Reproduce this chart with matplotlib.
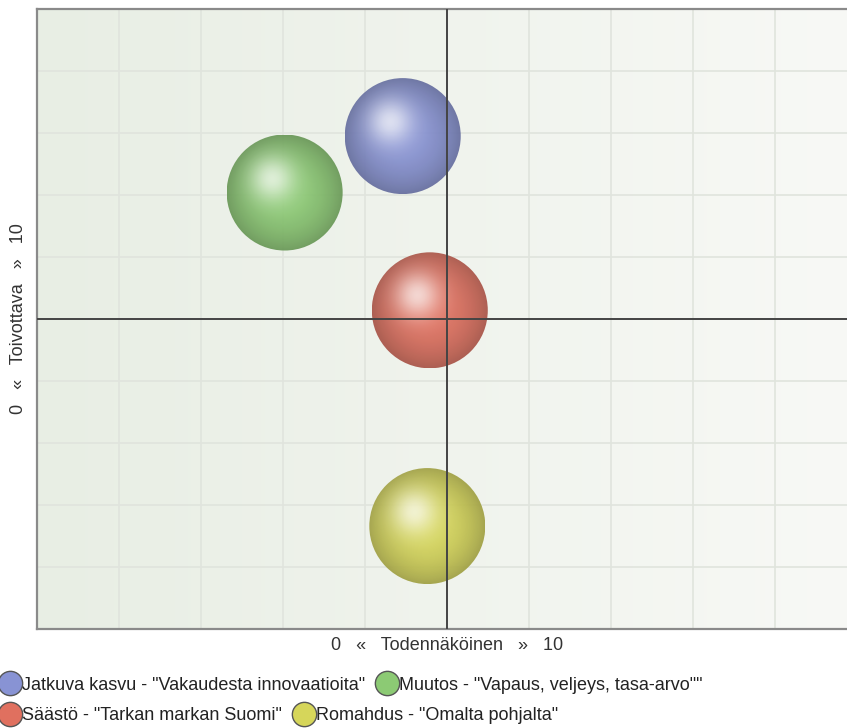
import numpy as np
import matplotlib
matplotlib.use("Agg")
import matplotlib.pyplot as plt
from matplotlib.patches import Ellipse
from matplotlib.lines import Line2D

plt.rcParams['font.family'] = ['Liberation Sans', 'DejaVu Sans']

# data
names = ['Jatkuva kasvu - "Vakaudesta innovaatioita"',
         'Muutos - "Vapaus, veljeys, tasa-arvo""',
         'Säästö - "Tarkan markan Suomi"',
         'Romahdus - "Omalta pohjalta"']
todennakoinen = [4.46, 3.02, 4.79, 4.76]
toivottava = [7.95, 7.04, 5.14, 1.66]
colors = ['#8893d4', '#8cca74', '#e0705f', '#d6d65a']

xlab = '0   «   Todennäköinen   »   10'
ylab = '0   «   Toivottava   »   10'

W, H = 847, 728
fig = plt.figure(figsize=(W / 100, H / 100), dpi=100)
ax = fig.add_axes([37 / W, (H - 629) / H, 820 / W, 620 / H])
ax.set_xlim(0, 10)
ax.set_ylim(0, 10)

# background gradient
grad = np.linspace(0, 1, 256)[None, :, None]
left = np.array([232, 238, 228]) / 255
right = np.array([248, 249, 246]) / 255
bg = left + (right - left) * grad
ax.imshow(bg, extent=[0, 10, 0, 10], aspect='auto', zorder=0)

ax.set_xticks(np.arange(0, 11))
ax.set_yticks(np.arange(0, 11))
ax.grid(True, color='#e0e4dd', lw=1.2, zorder=1)
ax.tick_params(length=0, labelbottom=False, labelleft=False)
for s in ['left', 'top', 'bottom']:
    ax.spines[s].set_color('#8a8a8a')
    ax.spines[s].set_linewidth(1.6)
ax.spines['right'].set_visible(False)

ax.axvline(5, color='#444444', lw=1.4, zorder=5)
ax.axhline(5, color='#444444', lw=1.4, zorder=5)

# shaded spheres
fig.canvas.draw()
p0 = ax.transData.transform((0, 0))
p1 = ax.transData.transform((1, 1))
rpx = 58
rx = rpx / (p1[0] - p0[0])
ry = rpx / (p1[1] - p0[1])

n = 200
u, v = np.meshgrid(np.linspace(-1, 1, n), np.linspace(-1, 1, n))
r = np.clip(np.sqrt(u ** 2 + v ** 2), 0, 1)
d = np.sqrt((u + 0.22) ** 2 + (v - 0.25) ** 2)
shade = 1.0 - 0.25 * r ** 2.2
spec = 0.7 * np.exp(-(d / 0.38) ** 2)

for x, y, c in zip(todennakoinen, toivottava, colors):
    base = np.array(matplotlib.colors.to_rgb(c))
    img = base[None, None, :] * shade[..., None]
    img = img * (1 - spec[..., None]) + spec[..., None]
    img = np.clip(img, 0, 1)
    im = ax.imshow(img, extent=[x - rx, x + rx, y - ry, y + ry], origin='lower',
                   aspect='auto', interpolation='bilinear', zorder=3, alpha=0.93)
    e = Ellipse((x, y), 2 * rx, 2 * ry, transform=ax.transData,
                facecolor='none', edgecolor='none')
    ax.add_patch(e)
    im.set_clip_path(e)

ax.set_xlim(0, 10)
ax.set_ylim(0, 10)

fig.text(447 / W, 1 - 645 / H, xlab, ha='center', va='center', fontsize=13, color='#333333')
fig.text(19 / W, 1 - 319 / H, ylab, ha='center', va='center', fontsize=13,
         color='#333333', rotation=90)

# legend rows
def handle(c):
    return Line2D([], [], marker='o', ls='none', markersize=17.5,
                  markerfacecolor=c, markeredgecolor='#555555', markeredgewidth=1)

rows = [(0, 1), (2, 3)]
ys = [685, 716]
for (i, j), yy in zip(rows, ys):
    leg = fig.legend([handle(colors[i]), handle(colors[j])], [names[i], names[j]],
                     loc='center left', bbox_to_anchor=(1 / W, 1 - yy / H), ncol=2,
                     frameon=False, fontsize=13, handlelength=1.0, handletextpad=0.15,
                     columnspacing=0.75, borderpad=0, borderaxespad=0)
    for t in leg.get_texts():
        t.set_color('#222222')

fig.savefig('out.png', dpi=100)
